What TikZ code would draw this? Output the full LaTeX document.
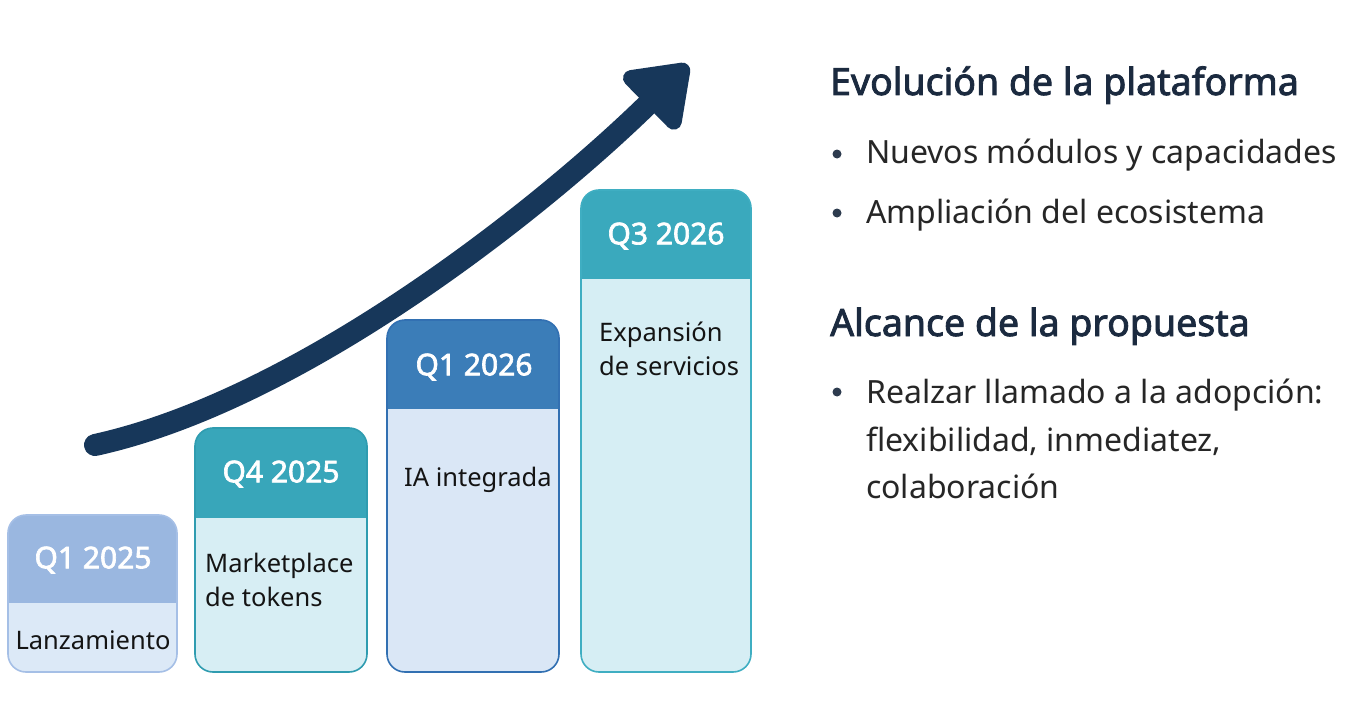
\documentclass[tikz,border=0pt]{standalone}
\usepackage{fontspec}
\setmainfont{Noto Sans}[AutoFakeBold=2.2]
\usetikzlibrary{arrows.meta}
\definecolor{arrowc}{HTML}{17375A}
\definecolor{hAh}{HTML}{9AB7E0}\definecolor{hAb}{HTML}{DCE9F7}\definecolor{hAr}{HTML}{A5BFE6}
\definecolor{hBh}{HTML}{38A6BA}\definecolor{hBb}{HTML}{D7EEF4}\definecolor{hBr}{HTML}{2F9CB0}
\definecolor{hCh}{HTML}{3B7DB8}\definecolor{hCb}{HTML}{DAE7F6}\definecolor{hCr}{HTML}{3270B2}
\definecolor{hDh}{HTML}{3AA9BD}\definecolor{hDb}{HTML}{D6EEF4}\definecolor{hDr}{HTML}{3FAEC2}
\definecolor{headc}{HTML}{1B2A3F}
\definecolor{txtc}{HTML}{262626}
\definecolor{dotc}{HTML}{2D3B4E}
\newcommand\stagebox[8]{%
  \fill[#7, rounded corners=18pt] (#1,#2) rectangle (#3,#5);
  \begin{scope}
    \clip (#1-2,#2-2) rectangle (#3+2,#4);
    \fill[#6, rounded corners=18pt] (#1,#2) rectangle (#3,#5);
  \end{scope}
  \draw[#8, line width=1.6pt, rounded corners=18pt] (#1,#2) rectangle (#3,#5);
}
\tikzset{
  qlabel/.style={text=white, font=\fontsize{30}{34}\selectfont\bfseries, inner sep=0pt},
  desc/.style={text=black!92, font=\fontsize{25.5}{34}\selectfont, align=left, inner sep=0pt},
  headtxt/.style={text=headc, font=\fontsize{37.5}{44}\selectfont\bfseries, anchor=base west, inner sep=0pt},
  bultxt/.style={text=txtc, font=\fontsize{32}{47.5}\selectfont, anchor=base west, inner sep=0pt},
  bulletdot/.style={circle, fill=dotc, minimum size=9pt, inner sep=0pt},
  growarrow/.style={arrowc, line width=22pt, line cap=round, -{Triangle[length=64pt, width=88pt, round]}}
}
\begin{document}
\begin{tikzpicture}[x=1pt,y=-1pt]
\useasboundingbox (0,0) rectangle (1361,709);
\fill[white] (0,0) rectangle (1361,709);

% stage boxes
\stagebox{8}{515}{177}{602}{672}{hAh}{hAb}{hAr}
\stagebox{195}{428}{367}{517}{672}{hBh}{hBb}{hBr}
\stagebox{387}{320}{559}{408}{672}{hCh}{hCb}{hCr}
\stagebox{581}{190}{751}{278}{672}{hDh}{hDb}{hDr}

\node[qlabel] (q1) at (93,560) {Q1 2025};
\node[qlabel] (q2) at (281,474) {Q4 2025};
\node[qlabel] (q3) at (474,367) {Q1 2026};
\node[qlabel] (q4) at (666,236) {Q3 2026};

\node[desc] (d1) at (93,640) {Lanzamiento};
\node[desc, anchor=west] (d2) at (205,580) {Marketplace\\de tokens};
\node[desc, anchor=west] (d3) at (404,480) {IA integrada};
\node[desc, anchor=west] (d4) at (599,349) {Expansión\\de servicios};

% growth arrow
\coordinate (as) at (95,445);
\coordinate (ae) at (688,65);
\draw[growarrow] (as) .. controls (300,400) and (540,210) .. (ae);

% right column
\node[headtxt] (h1) at (830,95) {Evolución de la plataforma};
\node[bulletdot] (b1) at (837,154) {};
\node[bultxt] (t1) at (866,163) {Nuevos módulos y capacidades};
\node[bulletdot] (b2) at (837,213) {};
\node[bultxt] (t2) at (866,223) {Ampliación del ecosistema};

\node[headtxt] (h2) at (830,336) {Alcance de la propuesta};
\node[bulletdot] (b3) at (837,392) {};
\node[bultxt] (t3a) at (866,403) {Realzar llamado a la adopción:};
\node[bultxt] (t3b) at (866,451) {flexibilidad, inmediatez,};
\node[bultxt] (t3c) at (866,498) {colaboración};
\end{tikzpicture}
\end{document}
